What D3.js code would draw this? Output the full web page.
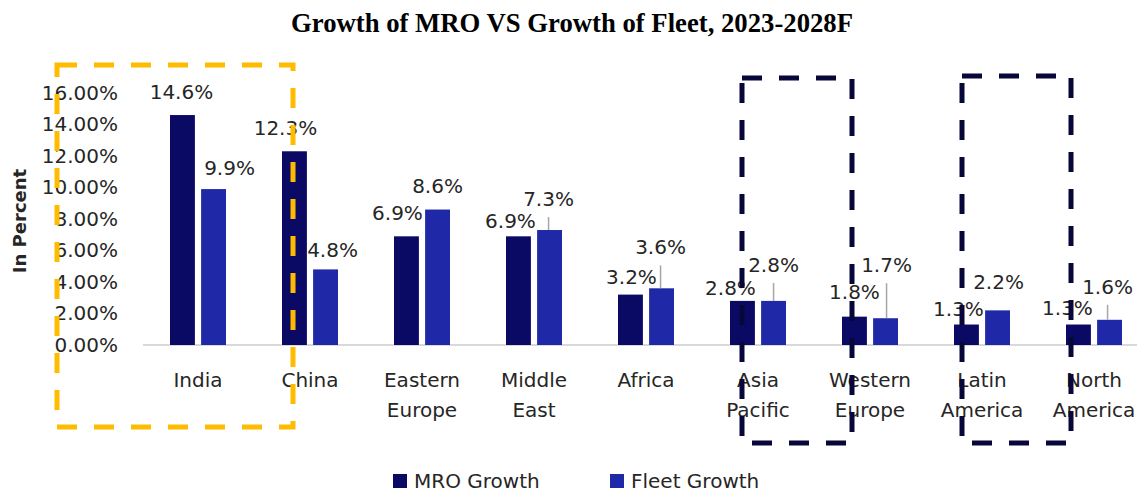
<!DOCTYPE html>
<html>
<head>
<meta charset="utf-8">
<script src="https://cdn.jsdelivr.net/npm/d3@7"></script>
<style>
    body { margin: 0; background: #fff; }
    svg text { font-family: "DejaVu Sans", sans-serif; fill: #262626; }
</style>
</head>
<body>
<div id="chart"></div>
<script>
// data
const categories = ['India', 'China', 'Eastern Europe', 'Middle East', 'Africa',
    'Asia Pacific', 'Western Europe', 'Latin America', 'North America'];
const seriesNames = ['MRO Growth', 'Fleet Growth'];
const mroGrowth = [14.6, 12.3, 6.9, 6.9, 3.2, 2.8, 1.8, 1.3, 1.3];
const fleetGrowth = [9.9, 4.8, 8.6, 7.3, 3.6, 2.8, 1.7, 2.2, 1.6];
const yTicks = [0, 2, 4, 6, 8, 10, 12, 14, 16];

// label nudges (dx, dy from bar top centre), as in the source slide
const mroNudge = [[-1, -23], [-9, -23], [-9, -23], [-8, -15], [1, -18], [-12, -13], [0, -25], [-8, -16], [-11, -17]];
const fleetNudge = [[16, -21], [7, -19], [0, -24], [-1, -31], [-1, -41], [0, -36], [1, -53], [1, -28], [-2, -33]];

const colors = { 'MRO Growth': '#0a0a64', 'Fleet Growth': '#1f28a6' };

class GroupedBars {
    constructor(containerId) {
        this.containerId = containerId;
        this.initVis();
    }

    initVis() {
        let vis = this;
        vis.width = 1137;
        vis.height = 492;

        vis.svg = d3.select('#' + vis.containerId).append('svg')
            .attr('width', vis.width)
            .attr('height', vis.height);

        vis.x0 = d3.scaleBand().domain(categories).range([142, 1150])
            .paddingInner(0.5).paddingOuter(0.25);
        vis.x1 = d3.scaleBand().domain(seriesNames).range([0, vis.x0.bandwidth()])
            .paddingInner(0.2);
        vis.y = d3.scaleLinear().domain([0, 16]).range([345, 93]);

        vis.rows = categories.map((c, i) => ({
            category: c,
            values: [
                { key: 'MRO Growth', value: mroGrowth[i], nudge: mroNudge[i] },
                { key: 'Fleet Growth', value: fleetGrowth[i], nudge: fleetNudge[i] }
            ]
        }));

        vis.drawTitle();
        vis.drawAxes();
        vis.drawBars();
        vis.drawLegend();
        vis.drawBoxes();
    }

    drawTitle() {
        let vis = this;
        vis.svg.append('text')
            .attr('x', 572).attr('y', 32)
            .attr('text-anchor', 'middle')
            .attr('textLength', 562)
            .attr('lengthAdjust', 'spacingAndGlyphs')
            .style('font-family', '"Liberation Serif", "Times New Roman", serif')
            .style('font-weight', 'bold')
            .style('font-size', '27px')
            .style('fill', '#000')
            .text('Growth of MRO VS Growth of Fleet, 2023-2028F');
    }

    drawAxes() {
        let vis = this;

        // y tick labels, no line
        let yAxis = d3.axisLeft(vis.y).tickValues(yTicks)
            .tickFormat(d => d3.format('.2f')(d) + '%')
            .tickSize(0).tickPadding(0);
        let gy = vis.svg.append('g')
            .attr('transform', 'translate(118,0)')
            .call(yAxis);
        gy.select('.domain').remove();
        gy.selectAll('text')
            .style('font-size', '20px')
            .style('font-family', '"DejaVu Sans", sans-serif')
            .attr('fill', '#262626');

        vis.svg.append('text')
            .attr('transform', 'translate(26,221) rotate(-90)')
            .attr('text-anchor', 'middle')
            .style('font-size', '18px')
            .style('font-weight', 'bold')
            .text('In Percent');

        // baseline
        vis.svg.append('line')
            .attr('x1', 143).attr('x2', vis.width)
            .attr('y1', vis.y(0)).attr('y2', vis.y(0))
            .attr('stroke', '#d9d9d9').attr('stroke-width', 2);

        // category labels (two lines)
        let cats = vis.svg.append('g').selectAll('text')
            .data(categories)
            .enter().append('text')
            .attr('text-anchor', 'middle')
            .attr('x', d => vis.x0(d) + vis.x0.bandwidth() / 2)
            .attr('y', 387)
            .style('font-size', '20px');
        cats.each(function(d) {
            let words = d.split(' ');
            let t = d3.select(this);
            words.forEach((w, i) => {
                t.append('tspan')
                    .attr('x', t.attr('x'))
                    .attr('dy', i === 0 ? 0 : 30)
                    .text(w);
            });
        });
    }

    drawBars() {
        let vis = this;

        let groups = vis.svg.append('g').selectAll('g')
            .data(vis.rows)
            .enter().append('g')
            .attr('transform', d => `translate(${vis.x0(d.category)},0)`);

        groups.selectAll('rect')
            .data(d => d.values)
            .enter().append('rect')
            .attr('x', d => vis.x1(d.key))
            .attr('width', vis.x1.bandwidth())
            .attr('y', d => vis.y(d.value))
            .attr('height', d => vis.y(0) - vis.y(d.value))
            .style('fill', d => colors[d.key]);

        // leader lines for labels pushed away from their bar
        groups.selectAll('line.leader')
            .data(d => d.values.filter(v => v.nudge[1] < -28))
            .enter().append('line')
            .attr('class', 'leader')
            .attr('x1', d => vis.x1(d.key) + vis.x1.bandwidth() / 2 + d.nudge[0])
            .attr('x2', d => vis.x1(d.key) + vis.x1.bandwidth() / 2 + d.nudge[0])
            .attr('y1', d => vis.y(d.value) + d.nudge[1] + 18)
            .attr('y2', d => vis.y(d.value))
            .attr('stroke', '#a6a6a6')
            .attr('stroke-width', 1.5);

        groups.selectAll('text.val')
            .data(d => d.values)
            .enter().append('text')
            .attr('class', 'val')
            .attr('text-anchor', 'middle')
            .attr('dominant-baseline', 'central')
            .attr('x', d => vis.x1(d.key) + vis.x1.bandwidth() / 2 + d.nudge[0])
            .attr('y', d => vis.y(d.value) + d.nudge[1])
            .style('font-size', '20px')
            .text(d => d.value.toFixed(1) + '%');
    }

    drawLegend() {
        let vis = this;
        let lx = [393, 610];
        let lg = vis.svg.append('g').selectAll('g')
            .data(seriesNames)
            .enter().append('g')
            .attr('transform', (d, i) => `translate(${lx[i]},474)`);
        lg.append('rect')
            .attr('width', 14).attr('height', 14)
            .style('fill', d => colors[d]);
        lg.append('text')
            .attr('x', 21).attr('y', 7)
            .attr('dominant-baseline', 'central')
            .style('font-size', '20px')
            .text(d => d);
    }

    drawBoxes() {
        let vis = this;
        // dashed highlight boxes, placed against the category bands
        const boxes = [
            { from: 'India', dx0: -113, to: 'China', dx1: 11, top: 65, bottom: 427, color: '#ffbb00' },
            { from: 'Asia Pacific', dx0: 12, to: 'Western Europe', dx1: 10, top: 78, bottom: 443, color: '#07073a' },
            { from: 'Latin America', dx0: 8, to: 'North America', dx1: 5, top: 76, bottom: 443, color: '#07073a' }
        ];
        vis.svg.append('g').selectAll('rect')
            .data(boxes)
            .enter().append('rect')
            .attr('x', d => vis.x0(d.from) + d.dx0)
            .attr('width', d => (vis.x0(d.to) + d.dx1) - (vis.x0(d.from) + d.dx0))
            .attr('y', d => d.top)
            .attr('height', d => d.bottom - d.top)
            .attr('fill', 'none')
            .attr('stroke', d => d.color)
            .attr('stroke-width', 5)
            .attr('stroke-dasharray', '20,17');
    }
}

new GroupedBars('chart');
</script>
</body>
</html>
